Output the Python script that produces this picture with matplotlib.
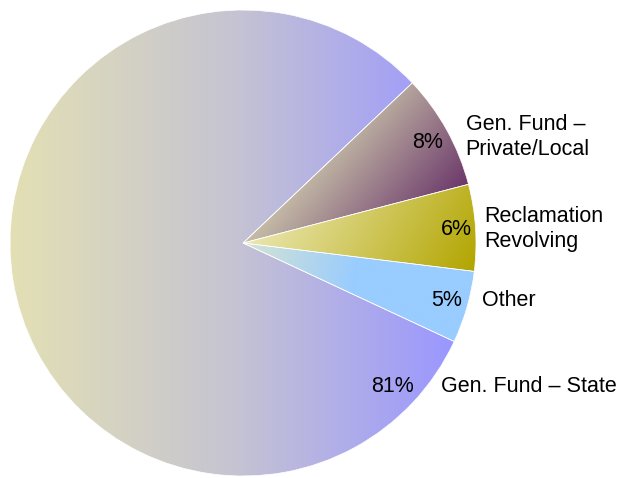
import numpy as np
import matplotlib
matplotlib.use("Agg")
import matplotlib.pyplot as plt
from matplotlib.colors import to_rgb

plt.rcParams['font.family'] = ['Liberation Sans', 'DejaVu Sans']

# funding shares, drawn clockwise from the upper right
sources = ["Gen. Fund –\nPrivate/Local", "Reclamation\nRevolving", "Other", "Gen. Fund – State"]
shares = [8, 6, 5, 81]

# gradient start/end colours and direction (degrees) per slice
grad_start = ["#c6bea8", "#ebe7b2", "#d6e4d2", "#e3e0b5"]
grad_end = ["#6b376a", "#b2a500", "#99ccff", "#9a97ff"]
grad_dir = [-40, -30, -10, 0]
grad_gain = [1.0, 1.0, 2.0, 1.0]

# text placement in pie units (radius = 1)
pct_pos = [(0.79, 0.43), (0.915, 0.06), (0.875, -0.245), (0.64, -0.615)]
lab_pos = [(0.955, 0.455), (1.035, 0.06), (1.025, -0.245), (0.85, -0.615)]

W, H, R, CX, CY = 617, 478, 233, 243, 243
fig = plt.figure(figsize=(W / 100, H / 100), dpi=100)
ax = fig.add_axes([0, 0, 1, 1])
xlim = (-CX / R, (W - CX) / R)
ylim = (-(H - CY) / R, CY / R)

wedges, _ = ax.pie(shares, startangle=43.4, counterclock=False, radius=1,
                   wedgeprops=dict(edgecolor="white", linewidth=0.5))
ax.set_aspect("auto")
ax.set_xlim(*xlim)
ax.set_ylim(*ylim)
ax.axis("off")

gx, gy = np.meshgrid(np.linspace(xlim[0], xlim[1], 700),
                     np.linspace(ylim[0], ylim[1], 550))

for w, c0, c1, ang, gain in zip(wedges, grad_start, grad_end, grad_dir, grad_gain):
    d = np.array([np.cos(np.radians(ang)), np.sin(np.radians(ang))])
    verts = w.get_path().vertices
    proj = verts @ d
    p = gx * d[0] + gy * d[1]
    t = np.clip((p - proj.min()) / (proj.max() - proj.min()) * gain, 0, 1)
    a, b = np.array(to_rgb(c0)), np.array(to_rgb(c1))
    if ang == 0:
        mid = np.array(to_rgb("#c6c4d2"))
        img = np.where(t[..., None] < 0.5,
                       a + (mid - a) * (t[..., None] * 2),
                       mid + (b - mid) * ((t[..., None] - 0.5) * 2))
    else:
        img = a + (b - a) * t[..., None]
    w.set_facecolor("none")
    im = ax.imshow(img, extent=(xlim[0], xlim[1], ylim[0], ylim[1]),
                   origin="lower", aspect="auto", zorder=0.5, interpolation="bilinear")
    im.set_clip_path(w)

for v, name, pp, lp in zip(shares, sources, pct_pos, lab_pos):
    ax.text(pp[0], pp[1], f"{v}%", ha="center", va="center", fontsize=15.5, color="black")
    ax.text(lp[0], lp[1], name, ha="left", va="center", fontsize=15.5,
            color="black", linespacing=1.25)

fig.savefig("out.png", dpi=100)
